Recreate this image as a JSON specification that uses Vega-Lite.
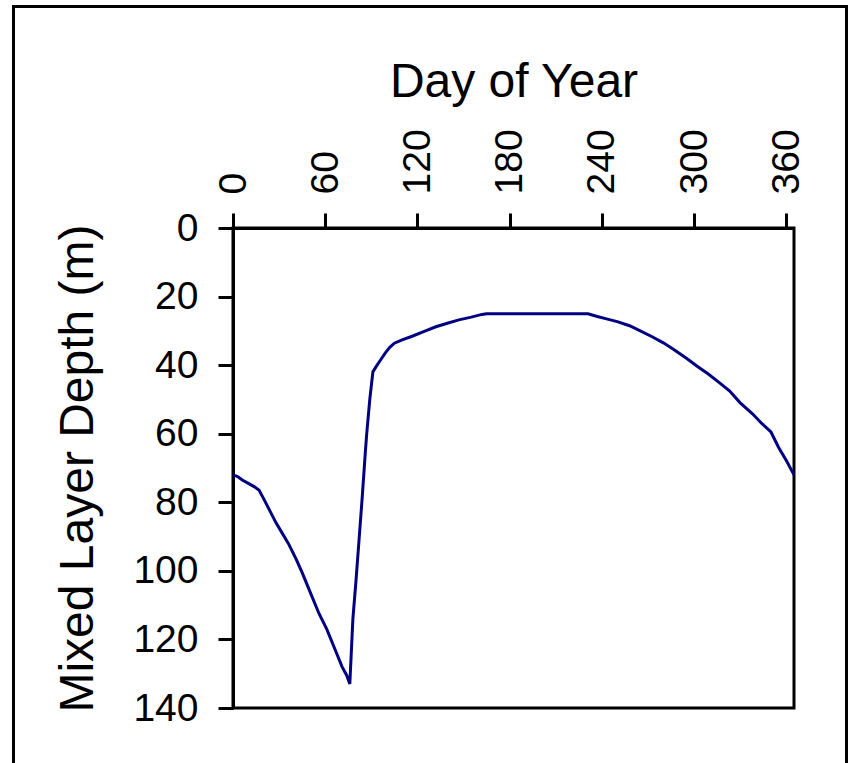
{
  "$schema": "https://vega.github.io/schema/vega-lite/v6.json",
  "width": 561,
  "height": 480,
  "autosize": {"type": "none"},
  "padding": {"left": 233, "top": 228, "right": 57, "bottom": 55},
  "background": "white",
  "data": {
    "values": [
      {"day": 0, "depth": 72}, {"day": 3, "depth": 72.5}, {"day": 6, "depth": 73.5},
      {"day": 10, "depth": 74.5}, {"day": 14, "depth": 75.5}, {"day": 17, "depth": 76.5},
      {"day": 20, "depth": 79}, {"day": 24, "depth": 82.5}, {"day": 28, "depth": 86},
      {"day": 32, "depth": 89}, {"day": 36, "depth": 92}, {"day": 41, "depth": 96.5},
      {"day": 45, "depth": 100.5}, {"day": 50, "depth": 106}, {"day": 56, "depth": 112.5},
      {"day": 61, "depth": 117}, {"day": 66, "depth": 122.5}, {"day": 71, "depth": 128},
      {"day": 74, "depth": 130.5}, {"day": 76, "depth": 133}, {"day": 78, "depth": 114},
      {"day": 80, "depth": 103}, {"day": 82, "depth": 91}, {"day": 84, "depth": 79},
      {"day": 86, "depth": 66}, {"day": 87, "depth": 60}, {"day": 89, "depth": 50},
      {"day": 91, "depth": 42}, {"day": 93, "depth": 40.5}, {"day": 96, "depth": 38.5},
      {"day": 99, "depth": 36.5}, {"day": 102, "depth": 34.8}, {"day": 105, "depth": 33.6},
      {"day": 110, "depth": 32.6}, {"day": 117, "depth": 31.5}, {"day": 124, "depth": 30.2},
      {"day": 132, "depth": 28.8}, {"day": 140, "depth": 27.7}, {"day": 147, "depth": 26.8},
      {"day": 155, "depth": 26}, {"day": 162, "depth": 25.2}, {"day": 165, "depth": 25},
      {"day": 200, "depth": 25}, {"day": 231, "depth": 25}, {"day": 237, "depth": 25.8},
      {"day": 243, "depth": 26.5}, {"day": 250, "depth": 27.3}, {"day": 258, "depth": 28.5},
      {"day": 265, "depth": 30}, {"day": 273, "depth": 31.8}, {"day": 280, "depth": 33.5},
      {"day": 287, "depth": 35.5}, {"day": 295, "depth": 38}, {"day": 302, "depth": 40.3},
      {"day": 309, "depth": 42.5}, {"day": 317, "depth": 45.3}, {"day": 323, "depth": 47.5},
      {"day": 330, "depth": 51}, {"day": 338, "depth": 54.2}, {"day": 344, "depth": 57},
      {"day": 350, "depth": 59.5}, {"day": 355, "depth": 64}, {"day": 360, "depth": 67.8},
      {"day": 365, "depth": 72}
    ]
  },
  "layer": [
    {
      "mark": {"type": "rect", "fill": null, "stroke": "black", "strokeWidth": 2},
      "encoding": {
        "x": {"datum": -142.7, "type": "quantitative"},
        "x2": {"datum": 399.4},
        "y": {"datum": -64.5, "type": "quantitative"},
        "y2": {"datum": 162}
      }
    },
    {
      "mark": {"type": "line", "color": "#000080", "strokeWidth": 3},
      "encoding": {
        "x": {
          "field": "day",
          "type": "quantitative",
          "scale": {"domain": [0, 365], "nice": false, "zero": false},
          "axis": {
            "orient": "top",
            "title": "Day of Year",
            "values": [0, 60, 120, 180, 240, 300, 360],
            "labelAngle": 270,
            "labelAlign": "left",
            "labelBaseline": "middle",
            "labelPadding": 19,
            "titlePadding": 22
          }
        },
        "y": {
          "field": "depth",
          "type": "quantitative",
          "scale": {"domain": [0, 140], "reverse": true, "nice": false},
          "axis": {
            "title": "Mixed Layer Depth (m)",
            "values": [0, 20, 40, 60, 80, 100, 120, 140],
            "labelPadding": 20,
            "titlePadding": 30
          }
        }
      }
    }
  ],
  "config": {
    "font": "Liberation Sans",
    "view": {"stroke": "black", "strokeWidth": 3},
    "axis": {
      "grid": false,
      "domainColor": "black",
      "domainWidth": 3,
      "tickColor": "black",
      "tickWidth": 3,
      "tickSize": 15,
      "labelColor": "black",
      "labelFont": "Liberation Sans",
      "labelFontSize": 39,
      "labelOverlap": false,
      "labelFlush": false,
      "titleColor": "black",
      "titleFont": "Liberation Sans",
      "titleFontSize": 48,
      "titleFontWeight": "normal"
    }
  }
}
